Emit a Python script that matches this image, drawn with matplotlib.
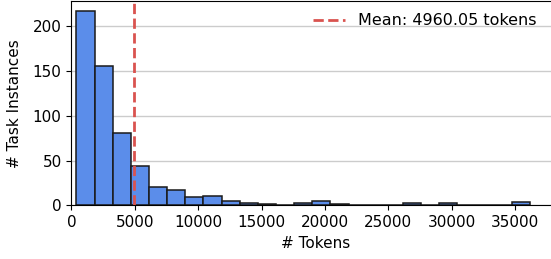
import numpy as np
import matplotlib
matplotlib.use("Agg")
import matplotlib.pyplot as plt

# histogram of token counts (25 bins)
bin_start = 394
bin_end = 36170
counts = [217, 156, 81, 44, 21, 17, 10, 11, 5, 3, 2, 0, 3,
          5, 2, 0, 1, 1, 3, 0, 3, 0, 0, 0, 4]
mean_tokens = 4960.05

edges = np.linspace(bin_start, bin_end, len(counts) + 1)
widths = np.diff(edges)

fig = plt.figure(figsize=(5.51, 2.59), dpi=100)
# axes runs past the right edge of the figure, like the cropped original
ax = fig.add_axes([0.1295, 0.2066, 0.8862, 0.789])
ax.spines['right'].set_visible(False)

ax.bar(edges[:-1], counts, width=widths, align='edge',
       color='#5b8dea', edgecolor='#1a1a1a', linewidth=1.1, zorder=2)
ax.axvline(mean_tokens, color='#d9534f', linestyle='--', linewidth=2,
           label=f'Mean: {mean_tokens:.2f} tokens', zorder=3)

ax.set_xlim(0, 38500)
ax.set_ylim(0, 228)
ax.set_xticks(range(0, 35001, 5000))
ax.set_yticks(range(0, 201, 50))
ax.grid(axis='y', color='#cccccc', linewidth=1, zorder=0)
ax.set_axisbelow(True)

ax.tick_params(labelsize=11)
ax.set_xlabel('# Tokens', fontsize=11, labelpad=4)
ax.set_ylabel('# Task Instances', fontsize=11, labelpad=7.5)
ax.legend(loc='upper right', frameon=False, fontsize=11.5,
          bbox_to_anchor=(1.0, 1.004), bbox_transform=fig.transFigure)

fig.savefig('out.png', dpi=100)
